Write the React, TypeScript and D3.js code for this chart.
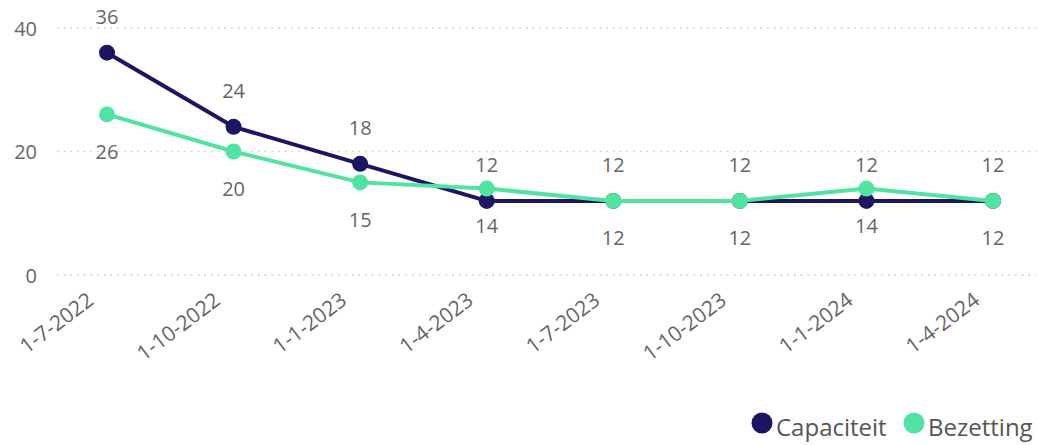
import React from "react";
import * as d3 from "d3";

const categories = ["1-7-2022", "1-10-2022", "1-1-2023", "1-4-2023", "1-7-2023", "1-10-2023", "1-1-2024", "1-4-2024"];
const capaciteit = [36, 24, 18, 12, 12, 12, 12, 12];
const bezetting = [26, 20, 15, 14, 12, 12, 14, 12];
const yTicks = [0, 20, 40];
const seriesNames = ["Capaciteit", "Bezetting"];
const colors = ["#1C1660", "#52E2A2"];

const W = 1038;
const H = 445;
const FONT = "'Segoe UI', 'Open Sans', 'Noto Sans', sans-serif";

export default function App() {
  const x = d3.scalePoint<string>().domain(categories).range([107, 993]);
  const y = d3.scaleLinear().domain([0, 40]).range([275, 28]);
  const line = d3
    .line<number>()
    .x((_, i) => x(categories[i]) as number)
    .y((d) => y(d));

  const series = [capaciteit, bezetting];
  const legendX = [762, 914];

  return (
    <svg
      width={W}
      height={H}
      style={{ position: "absolute", left: 0, top: 0, fontFamily: FONT }}
    >
      {yTicks.map((t) => (
        <g key={t}>
          <line
            x1={57}
            x2={1036}
            y1={y(t)}
            y2={y(t)}
            stroke="#c8c8c8"
            strokeWidth={1.5}
            strokeDasharray="1.5,5.2"
          />
          <text
            x={37}
            y={y(t)}
            textAnchor="end"
            dominantBaseline="central"
            fontSize={20}
            fill="#666"
          >
            {t}
          </text>
        </g>
      ))}
      {categories.map((c) => (
        <text
          key={c}
          transform={`translate(${(x(c) as number) - 12},${303}) rotate(-37)`}
          textAnchor="end"
          fontSize={21}
          fill="#666"
        >
          {c}
        </text>
      ))}
      {series.map((s, si) => (
        <g key={si}>
          <path d={line(s) || ""} fill="none" stroke={colors[si]} strokeWidth={4} strokeLinejoin="round" />
          {s.map((v, i) => (
            <circle key={i} cx={x(categories[i]) as number} cy={y(v)} r={8} fill={colors[si]} />
          ))}
        </g>
      ))}
      {series.map((s, si) =>
        s.map((v, i) => (
          <text
            key={`${si}-${i}`}
            x={x(categories[i]) as number}
            y={y(v) + (si === 0 ? -36 : 37)}
            textAnchor="middle"
            dominantBaseline="central"
            fontSize={20}
            fill="#666"
          >
            {v}
          </text>
        ))
      )}
      {seriesNames.map((n, i) => {
        const lx = legendX[i];
        return (
          <g key={n}>
            <circle cx={lx} cy={423} r={10.5} fill={colors[i]} />
            <text x={lx + 14} y={436} fontSize={24} fill="#555">
              {n}
            </text>
          </g>
        );
      })}
    </svg>
  );
}
